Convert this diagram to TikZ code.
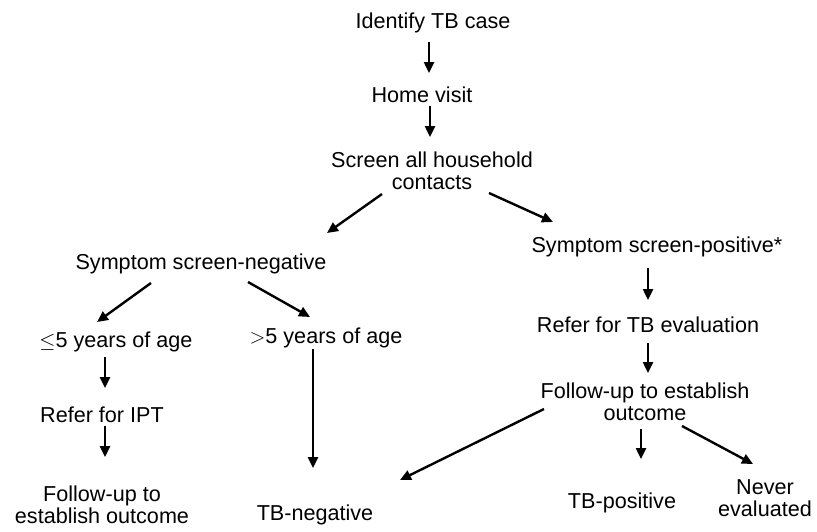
\documentclass[tikz,border=0pt]{standalone}
\usepackage{fontspec}
\setmainfont{Liberation Sans}
\usetikzlibrary{arrows.meta,calc}
\begin{document}
\begin{tikzpicture}[x=1pt,y=-1pt,
  lbl/.style={anchor=base,inner sep=0pt,align=center,font=\fontsize{21.6}{22}\selectfont},
  arr/.style={line width=2.4pt,-{Triangle[length=11pt,width=10pt]}}]
\useasboundingbox (0,0) rectangle (817,531);
% multi-line nodes: base anchor = baseline of last line
\node[lbl] (idf) at (433,28) {Identify TB case};
\node[lbl] (home) at (422,102) {Home visit};
\node[lbl] (scr) at (432,189) {Screen all household\\contacts};
\node[lbl] (neg) at (201,269) {Symptom screen-negative};
\node[lbl] (pos) at (657,252) {Symptom screen-positive*};
\node[lbl] (le5) at (116,347) {$\leq$5 years of age};
\node[lbl] (gt5) at (326,343) {$>$5 years of age};
\node[lbl] (ipt) at (102,422) {Refer for IPT};
\node[lbl] (fu1) at (102,523) {Follow-up to\\establish outcome};
\node[lbl] (tbneg) at (315,520) {TB-negative};
\node[lbl] (ref) at (648,332) {Refer for TB evaluation};
\node[lbl] (fu2) at (645,420) {Follow-up to establish\\outcome};
\node[lbl] (tbpos) at (622,508) {TB-positive};
\node[lbl] (never) at (765,516) {Never\\evaluated};

\draw[arr] ($(idf.base)+(-4,14)$) -- ($(home.base)+(7,-29)$);
\draw[arr] ($(home.base)+(8,4)$) -- ($(scr.base)+(-2,-52)$);
\draw[arr] ($(scr.base)+(-50,5)$) -- ($(neg.base)+(126,-36)$);
\draw[arr] ($(scr.base)+(57,4)$) -- ($(pos.base)+(-104,-30)$);
\draw[arr] ($(neg.base)+(-50,14)$) -- ($(le5.base)+(-19,-25)$);
\draw[arr] ($(neg.base)+(47,13)$) -- ($(gt5.base)+(-16,-26)$);
\draw[arr] ($(le5.base)+(-11,10)$) -- ($(ipt.base)+(3,-34)$);
\draw[arr] ($(ipt.base)+(3,4)$) -- ($(fu1.base)+(3,-66)$);
\draw[arr] ($(gt5.base)+(-13,6)$) -- ($(tbneg.base)+(-2,-52)$);
\draw[arr] ($(pos.base)+(-9,16)$) -- ($(ref.base)+(0,-32)$);
\draw[arr] ($(ref.base)+(0,11)$) -- ($(fu2.base)+(3,-47)$);
\draw[arr] ($(fu2.base)+(-101,-11)$) -- ($(tbneg.base)+(85,-40)$);
\draw[arr] ($(fu2.base)+(-4,9)$) -- ($(tbpos.base)+(19,-49)$);
\draw[arr] ($(fu2.base)+(37,6)$) -- ($(never.base)+(-12,-52)$);
\end{tikzpicture}
\end{document}
